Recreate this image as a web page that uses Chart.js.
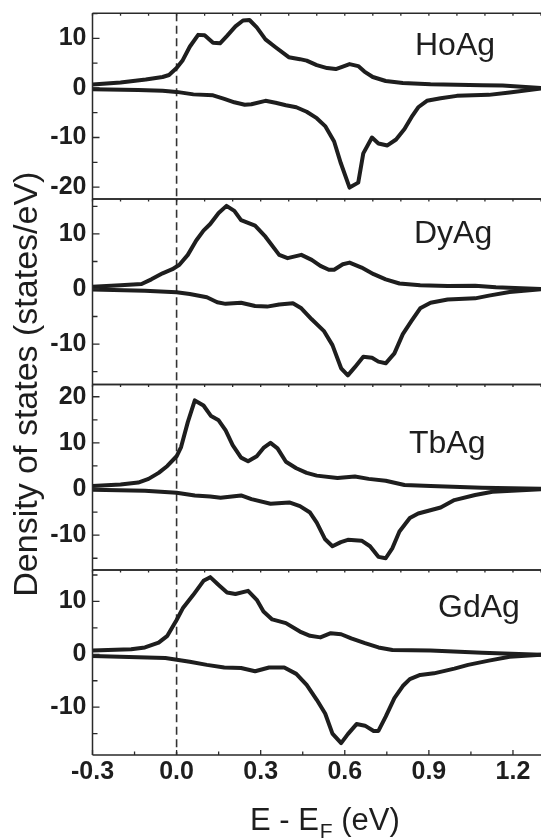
<!DOCTYPE html>
<html>
<head>
<meta charset="utf-8">
<script src="https://cdn.jsdelivr.net/npm/chart.js@4.4.1/dist/chart.umd.min.js"></script>
<style>
  html, body { margin: 0; padding: 0; background: #fff; overflow: hidden; }
  #wrap { position: relative; width: 541px; height: 840px; }
  #wrap canvas { position: absolute; left: 0; top: 0; }
</style>
</head>
<body>
<div id="wrap">
  <canvas id="pHo" width="541" height="840"></canvas>
  <canvas id="pDy" width="541" height="840"></canvas>
  <canvas id="pTb" width="541" height="840"></canvas>
  <canvas id="pGd" width="541" height="840"></canvas>
</div>
<script>
// ---- energy axis (E - E_F, eV) ----
const energyRange = [-0.3, 1.3];
const energyTicks = [-0.3, 0.0, 0.3, 0.6, 0.9, 1.2];

// ---- HoAg: spin-up / spin-down DOS (states/eV) ----
const hoAgUpE   = [-0.3,-0.2,-0.11,-0.05,-0.027,0,0.022,0.047,0.077,0.10,0.13,0.155,0.18,0.21,0.237,0.26,0.286,0.317,0.353,0.40,0.44,0.464,0.50,0.537,0.568,0.593,0.617,0.648,0.67,0.70,0.746,0.807,0.906,1.09,1.163,1.3];
const hoAgUpDos = [0.7,1.1,1.7,2.2,2.6,4.0,5.6,8.3,10.7,10.6,9.1,9.0,10.5,12.4,13.6,13.7,12.2,9.8,8.2,6.2,5.8,5.5,4.6,4.0,3.8,4.3,4.8,4.4,3.3,2.2,1.4,1.0,0.74,0.54,0.5,0.0];
const hoAgDnE   = [-0.3,-0.137,-0.05,0,0.06,0.13,0.17,0.206,0.243,0.267,0.317,0.353,0.39,0.427,0.464,0.50,0.53,0.562,0.586,0.617,0.648,0.666,0.697,0.72,0.752,0.783,0.813,0.838,0.862,0.893,0.942,1.0,1.114,1.188,1.3];
const hoAgDnDos = [-0.27,-0.4,-0.55,-0.8,-1.3,-1.5,-2.2,-2.9,-3.4,-3.3,-2.6,-3.0,-3.5,-3.9,-4.8,-6.1,-7.7,-10.8,-15.2,-20.1,-19.1,-13.2,-10.0,-11.2,-11.6,-10.4,-8.3,-5.9,-3.9,-2.6,-2.1,-1.6,-1.4,-0.9,-0.1];
const hoAgRange = [-22.4, 15.05];
const hoAgTicks = [-20, -10, 0, 10];

// ---- DyAg ----
const dyAgUpE   = [-0.3,-0.2,-0.125,-0.09,-0.05,-0.015,0.01,0.04,0.07,0.096,0.12,0.15,0.178,0.206,0.23,0.28,0.317,0.366,0.396,0.445,0.482,0.513,0.543,0.562,0.593,0.617,0.66,0.703,0.746,0.795,0.869,0.967,1.065,1.139,1.3];
const dyAgUpDos = [0.4,0.67,0.9,1.75,2.85,3.6,4.4,6.2,8.8,10.6,11.8,13.8,15.1,14.2,12.5,11.5,9.5,6.2,5.6,6.2,5.3,4.2,3.5,3.5,4.5,4.8,3.9,2.7,1.75,1.0,0.67,0.55,0.6,0.3,0.0];
const dyAgDnE   = [-0.3,-0.113,0,0.047,0.108,0.145,0.175,0.23,0.28,0.323,0.366,0.415,0.445,0.482,0.525,0.556,0.587,0.611,0.636,0.666,0.697,0.72,0.746,0.777,0.807,0.838,0.869,0.906,0.967,1.065,1.114,1.188,1.3];
const dyAgDnDos = [-0.1,-0.3,-0.6,-0.9,-1.5,-2.4,-2.7,-2.5,-3.1,-3.2,-2.8,-2.6,-3.5,-5.5,-7.6,-10.2,-14.4,-15.7,-14.2,-12.3,-12.5,-13.2,-13.5,-11.7,-8.2,-5.8,-3.5,-2.5,-1.9,-1.7,-1.2,-0.55,-0.05];
const dyAgRange = [-17.35, 16.35];
const dyAgTicks = [-10, 0, 10];

// ---- TbAg ----
const tbAgUpE   = [-0.3,-0.2,-0.137,-0.1,-0.064,-0.033,0,0.016,0.04,0.065,0.096,0.123,0.15,0.175,0.2,0.23,0.255,0.286,0.31,0.335,0.36,0.39,0.427,0.464,0.5,0.574,0.636,0.685,0.746,0.813,0.906,1.09,1.3];
const tbAgUpDos = [0.65,1.0,1.4,2.2,3.5,5.0,7.1,9.1,14.5,19.2,18.1,15.8,14.9,12.7,9.5,6.8,6.0,7.1,8.9,10.0,8.8,5.9,4.5,3.5,2.9,2.4,2.7,2.2,1.8,0.86,0.65,0.3,0.05];
const tbAgDnE   = [-0.3,-0.113,0,0.065,0.12,0.157,0.23,0.267,0.335,0.402,0.44,0.476,0.5,0.53,0.556,0.586,0.611,0.66,0.69,0.72,0.746,0.77,0.795,0.832,0.862,0.942,0.991,1.065,1.127,1.3];
const tbAgDnDos = [-0.15,-0.4,-0.8,-1.4,-1.6,-1.9,-1.4,-2.2,-3.2,-2.9,-3.7,-5.1,-7.3,-10.9,-12.4,-11.5,-11.0,-11.2,-12.4,-14.7,-15.0,-12.8,-9.2,-6.3,-5.3,-4.0,-2.4,-1.3,-0.6,-0.07];
const tbAgRange = [-17.55, 22.65];
const tbAgTicks = [-10, 0, 10, 20];

// ---- GdAg ----
const gdAgUpE   = [-0.3,-0.162,-0.113,-0.064,-0.033,0,0.022,0.059,0.096,0.12,0.15,0.18,0.21,0.255,0.286,0.31,0.341,0.39,0.44,0.476,0.513,0.55,0.587,0.623,0.672,0.72,0.77,0.906,1.09,1.3];
const gdAgUpDos = [0.7,0.95,1.3,2.2,3.5,6.5,8.7,11.2,13.9,14.6,13.1,11.7,11.4,12.0,10.3,8.1,6.6,5.9,4.3,3.5,3.2,4.0,3.8,3.0,2.1,1.3,0.8,0.7,0.3,-0.1];
const gdAgDnE   = [-0.3,-0.04,0.047,0.108,0.17,0.23,0.28,0.33,0.384,0.427,0.464,0.5,0.53,0.556,0.587,0.611,0.642,0.672,0.703,0.72,0.746,0.777,0.807,0.832,0.869,0.918,0.991,1.04,1.114,1.188,1.3];
const gdAgDnDos = [-0.3,-0.7,-1.4,-2.0,-2.5,-2.6,-3.2,-2.5,-2.5,-3.7,-5.8,-8.6,-11.2,-15.0,-16.8,-15.1,-13.2,-13.5,-14.5,-14.5,-11.8,-8.3,-6.0,-4.7,-3.9,-3.6,-2.7,-2.0,-1.2,-0.45,-0.1];
const gdAgRange = [-19.05, 15.95];
const gdAgTicks = [-10, 0, 10];

// ---- page layout (pixel edges of the stacked panels) ----
const W = 541, H = 840;
const panelEdges = [13.3, 199, 384.5, 570, 755];
const axisLeft = 92.5;
const INK = '#1e1e1e';
const FRAME = '#2a2a2a';
const FAMILY = '"Liberation Sans", Arial, Helvetica, sans-serif';

const panels = [
  { id: 'pHo', name: 'HoAg', up: [hoAgUpE, hoAgUpDos], dn: [hoAgDnE, hoAgDnDos], range: hoAgRange, ticks: hoAgTicks, label: [322.5, 41.7] },
  { id: 'pDy', name: 'DyAg', up: [dyAgUpE, dyAgUpDos], dn: [dyAgDnE, dyAgDnDos], range: dyAgRange, ticks: dyAgTicks, label: [321.5, 44] },
  { id: 'pTb', name: 'TbAg', up: [tbAgUpE, tbAgUpDos], dn: [tbAgDnE, tbAgDnDos], range: tbAgRange, ticks: tbAgTicks, label: [316.5, 68] },
  { id: 'pGd', name: 'GdAg', up: [gdAgUpE, gdAgUpDos], dn: [gdAgDnE, gdAgDnDos], range: gdAgRange, ticks: gdAgTicks, label: [345.5, 46.7] }
];

const toPoints = ([es, ds]) => es.map((e, i) => ({ x: e, y: ds[i] }));

// frame, inward ticks, Fermi-level marker and compound name for each panel
function panelDecor(p, isLast) {
  return {
    id: 'panelDecor',
    beforeDatasetsDraw(chart) {
      const { ctx, chartArea: a, scales: { x } } = chart;
      const xf = x.getPixelForValue(0);
      ctx.save();
      ctx.strokeStyle = '#333';
      ctx.lineWidth = 1.6;
      ctx.setLineDash([8, 4.5]);
      ctx.lineDashOffset = -((a.top - panelEdges[0]) % 12.5);
      ctx.beginPath();
      ctx.moveTo(xf, a.top);
      ctx.lineTo(xf, a.bottom);
      ctx.stroke();
      ctx.restore();
    },
    afterDatasetsDraw(chart) {
      const { ctx, chartArea: a, scales: { x, y } } = chart;
      ctx.save();
      ctx.strokeStyle = FRAME;
      ctx.lineWidth = 1.5;
      ctx.beginPath();
      ctx.moveTo(a.left, a.top); ctx.lineTo(a.right + 2, a.top);
      ctx.moveTo(a.left, a.bottom); ctx.lineTo(a.right + 2, a.bottom);
      ctx.moveTo(a.left, a.top); ctx.lineTo(a.left, a.bottom);
      ctx.stroke();

      // left axis: major every 10, minor every 5
      ctx.lineWidth = 1.3;
      ctx.beginPath();
      for (let v = Math.ceil(p.range[0] / 5) * 5; v <= p.range[1]; v += 5) {
        const py = y.getPixelForValue(v);
        const len = (v % 10 === 0) ? 7 : 5;
        ctx.moveTo(a.left, py); ctx.lineTo(a.left + len, py);
      }
      // small ticks along the top edge every 0.1 eV
      for (let k = 0; k <= 16; k++) {
        const px = x.getPixelForValue(energyRange[0] + k * 0.1);
        ctx.moveTo(px, a.top); ctx.lineTo(px, a.top + 2.5);
      }
      if (isLast) {
        // bottom energy axis: major every 0.3, minor every 0.15
        for (let k = 0; k <= 10; k++) {
          const px = x.getPixelForValue(energyRange[0] + k * 0.15);
          const len = (k % 2 === 0) ? 5 : 3.5;
          ctx.moveTo(px, a.bottom); ctx.lineTo(px, a.bottom - len);
        }
      }
      ctx.stroke();

      // compound name
      ctx.fillStyle = INK;
      ctx.font = '32px ' + FAMILY;
      ctx.textAlign = 'left';
      ctx.textBaseline = 'alphabetic';
      ctx.fillText(p.name, a.left + p.label[0], a.top + p.label[1]);
      ctx.restore();
    },
    afterDraw(chart) {
      if (!isLast) return;
      const { ctx, chartArea: a } = chart;
      ctx.save();
      ctx.fillStyle = INK;
      // shared y-axis title
      ctx.font = '34px ' + FAMILY;
      ctx.translate(28, (panelEdges[0] + panelEdges[4]) / 2);
      ctx.rotate(-Math.PI / 2);
      ctx.textAlign = 'center';
      ctx.textBaseline = 'middle';
      ctx.fillText('Density of states (states/eV)', 0, 0);
      ctx.restore();

      // x-axis title with subscript F
      ctx.save();
      ctx.fillStyle = INK;
      const big = '31px ' + FAMILY, small = '21px ' + FAMILY;
      const s1 = 'E - E', s2 = 'F', s3 = ' (eV)';
      ctx.font = big; const w1 = ctx.measureText(s1).width, w3 = ctx.measureText(s3).width;
      ctx.font = small; const w2 = ctx.measureText(s2).width;
      const cx = a.left + (a.right - a.left) * 0.517;
      let xx = cx - (w1 + w2 + w3) / 2;
      const base = 830;
      ctx.textBaseline = 'alphabetic';
      ctx.textAlign = 'left';
      ctx.font = big; ctx.fillText(s1, xx, base); xx += w1;
      ctx.font = small; ctx.fillText(s2, xx + 1, base + 8); xx += w2 + 1;
      ctx.font = big; ctx.fillText(s3, xx, base);
      ctx.restore();
    }
  };
}

panels.forEach((p, idx) => {
  const isLast = idx === panels.length - 1;
  const top = panelEdges[idx], bottom = panelEdges[idx + 1];
  const line = {
    borderColor: INK, borderWidth: 4, pointRadius: 0, tension: 0,
    borderJoinStyle: 'round', borderCapStyle: 'round', fill: false
  };
  new Chart(document.getElementById(p.id), {
    type: 'line',
    data: {
      datasets: [
        Object.assign({ label: p.name + ' up', data: toPoints(p.up) }, line),
        Object.assign({ label: p.name + ' down', data: toPoints(p.dn) }, line)
      ]
    },
    options: {
      responsive: false,
      animation: false,
      events: [],
      layout: { padding: { top: top, bottom: isLast ? 0 : H - bottom, left: 0, right: 0 } },
      plugins: { legend: { display: false }, tooltip: { enabled: false }, title: { display: false } },
      scales: {
        x: {
          type: 'linear',
          min: energyRange[0], max: energyRange[1],
          display: isLast,
          grid: { display: false, drawTicks: false },
          border: { display: false },
          afterBuildTicks: s => { s.ticks = energyTicks.map(v => ({ value: v })); },
          afterFit: s => {
            s.height = isLast ? H - panelEdges[4] : 0;
            s.paddingLeft = 0; s.paddingRight = 0;
          },
          ticks: {
            autoSkip: false, maxRotation: 0, padding: 2,
            color: INK,
            font: { family: FAMILY, size: 25, weight: 'bold' },
            callback: v => Number(v).toFixed(1)
          }
        },
        y: {
          type: 'linear',
          min: p.range[0], max: p.range[1],
          grid: { display: false, drawTicks: false },
          border: { display: false },
          afterBuildTicks: s => { s.ticks = p.ticks.map(v => ({ value: v })); },
          afterFit: s => { s.width = axisLeft; s.paddingTop = 0; s.paddingBottom = 0; },
          ticks: {
            padding: 6,
            color: INK,
            font: { family: FAMILY, size: 25, weight: 'bold' },
            callback: v => String(v)
          }
        }
      }
    },
    plugins: [panelDecor(p, isLast)]
  });
});
</script>
</body>
</html>
